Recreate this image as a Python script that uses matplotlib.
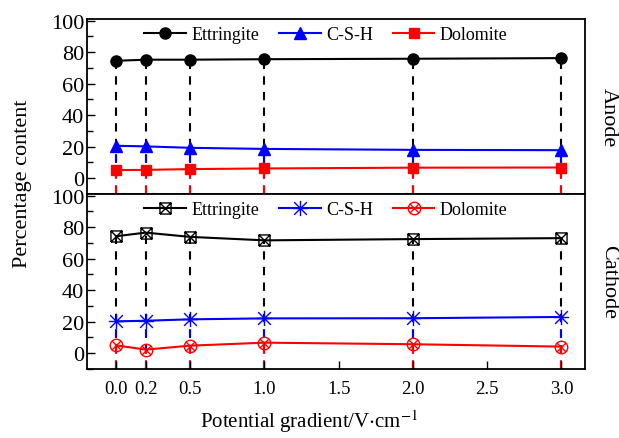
import numpy as np
import matplotlib
matplotlib.use("Agg")
import matplotlib.pyplot as plt
from matplotlib.path import Path

plt.rcParams["font.family"] = ["Liberation Serif", "DejaVu Serif"]
plt.rcParams["mathtext.fontset"] = "stix"

x = [0.0, 0.2, 0.5, 1.0, 2.0, 3.0]
xticks = [0.0, 0.2, 0.5, 1.0, 1.5, 2.0, 2.5, 3.0]
xtick_labels = ["0.0", "0.2", "0.5", "1.0", "1.5", "2.0", "2.5", "3.0"]

anode_ett = [74.5, 75.2, 75.2, 75.5, 75.8, 76.2]
anode_csh = [20.6, 20.2, 19.3, 18.6, 18.0, 17.8]
anode_dol = [5.2, 5.3, 5.8, 6.2, 6.7, 6.8]

cathode_ett = [74.2, 76.5, 73.8, 71.6, 72.4, 73.0]
cathode_csh = [20.2, 20.6, 21.5, 22.1, 22.2, 23.0]
cathode_dol = [5.0, 2.3, 4.8, 6.7, 5.7, 4.2]

M, L = Path.MOVETO, Path.LINETO

# square with an x inside
sq_x = Path([(-1, -1), (1, -1), (1, 1), (-1, 1), (-1, -1),
             (-1, -1), (1, 1), (-1, 1), (1, -1)],
            [M, L, L, L, L, M, L, M, L])
# asterisk
ast = Path([(-1, -1), (1, 1), (-1, 1), (1, -1), (0, -1.2), (0, 1.2),
            (-1.2, 0), (1.2, 0)],
           [M, L, M, L, M, L, M, L])
# circle with an x inside
circ = Path.unit_circle()
k = 0.7
circ_x = Path.make_compound_path(
    circ,
    Path([(-k, -k), (k, k), (-k, k), (k, -k)], [M, L, M, L]),
)

fig = plt.figure(figsize=(6.19, 4.39), dpi=100)
ax1 = fig.add_axes([0.1405, 0.5558, 0.8045, 0.3986])
ax2 = fig.add_axes([0.1405, 0.1572, 0.8045, 0.3986])

ymin, ymax = -10, 101

panels = [
    (ax1, anode_ett, anode_csh, anode_dol,
     dict(marker="o", ms=8, mfc="black", mec="black"),
     dict(marker="^", ms=8, mfc="blue", mec="blue"),
     dict(marker="s", ms=7, mfc="red", mec="red"),
     "Anode", 0.445),
    (ax2, cathode_ett, cathode_csh, cathode_dol,
     dict(marker=sq_x, ms=8, mfc="none", mec="black", mew=1.0),
     dict(marker=ast, ms=11, mfc="none", mec="blue", mew=1.0),
     dict(marker=circ_x, ms=9, mfc="none", mec="red", mew=1.0),
     "Cathode", 0.5),
]

for ax, ett, csh, dol, m_ett, m_csh, m_dol, side, side_y in panels:
    for vals, col in [(ett, "black"), (csh, "blue"), (dol, "red")]:
        ax.vlines(x, ymin, vals, colors=col, linestyles=(0, (4, 3.5)),
                  linewidth=1.5, zorder=1)
    ax.plot(x, ett, color="black", lw=1.5, label="Ettringite", zorder=3, **m_ett)
    ax.plot(x, csh, color="blue", lw=1.5, label="C-S-H", zorder=3, **m_csh)
    ax.plot(x, dol, color="red", lw=1.5, label="Dolomite", zorder=3, **m_dol)

    ax.set_xlim(-0.195, 3.158)
    ax.set_ylim(ymin, ymax)
    ax.set_yticks([0, 20, 40, 60, 80, 100])
    ax.set_yticks(np.arange(-10, 101, 10), minor=True)
    ax.tick_params(axis="y", which="both", direction="in", labelsize=16,
                   right=False, pad=2)
    ax.tick_params(axis="y", which="major", length=6, width=1)
    ax.tick_params(axis="y", which="minor", length=4, width=1)
    for s in ax.spines.values():
        s.set_linewidth(1.3)
    ax.legend(loc="center", bbox_to_anchor=(0.48, 0.91), ncol=3, frameon=False,
              fontsize=13, handlelength=2.3, columnspacing=1.1,
              handletextpad=0.3, borderpad=0.2)
    ax.text(1.047, side_y, side, transform=ax.transAxes, rotation=-90,
            ha="center", va="center", fontsize=16)

ax1.set_xticks([])
ax2.set_xticks(xticks)
ax2.set_xticklabels(xtick_labels)
ax2.tick_params(axis="x", direction="in", length=6, width=1, labelsize=13.5,
                pad=8)

fig.text(0.037, 0.581, "Percentage content", rotation=90, ha="center",
         va="center", fontsize=16)
fig.text(0.5, 0.008, "Potential gradient/V$\\cdot$cm$^{-1}$", ha="center",
         va="bottom", fontsize=15)

fig.savefig("out.png", dpi=100)
